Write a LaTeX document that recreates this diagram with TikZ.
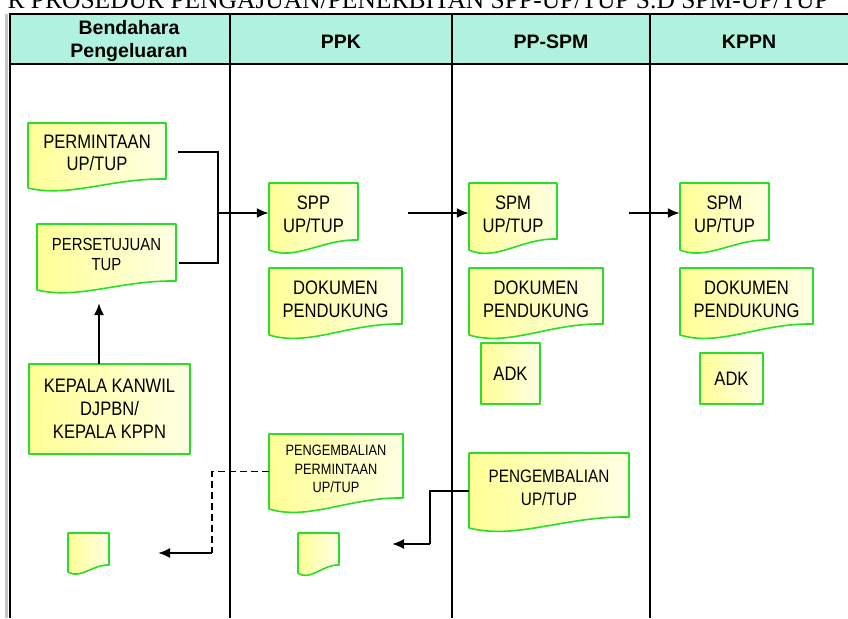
\documentclass[tikz,border=0pt]{standalone}
\usepackage{fontspec}
\usetikzlibrary{arrows.meta,calc}
\newfontfamily\bxf[FakeStretch=0.85]{Liberation Sans}
\newfontfamily\hdf{Liberation Sans}
\newfontfamily\ttlf{Liberation Serif}
\definecolor{mint}{RGB}{176,242,222}
\definecolor{docgreen}{RGB}{40,222,40}
\definecolor{yelA}{RGB}{255,255,150}
\definecolor{yelB}{RGB}{255,255,228}
\tikzset{
  docshape/.style={draw=docgreen, line width=1.6pt, left color=yelA, right color=yelB, line join=round},
  txt/.style={inner sep=0pt, align=center, text=black},
  lane/.style={line width=2pt, black},
  flow/.style={line width=2pt, black},
  arr/.style={flow, -{Latex[length=12pt,width=10pt]}},
  dsh/.style={line width=1.8pt, black, dash pattern=on 7pt off 4pt},
  hd/.style={inner sep=0pt, align=center, font=\hdf\bfseries\fontsize{19.5}{23}\selectfont},
}
% x1 y1 x2 yl yr
\newcommand\docpath[5]{%
  \path[docshape] (#1,#2) -- (#3,#2) -- (#3,#5)
    .. controls ({#1+0.6*(#3-#1)},{#5-0.1*(#4-#5)}) and ({#1+0.3*(#3-#1)},{#4+1.1*(#4-#5)}) .. (#1,#4) -- cycle;}
% name x1 y1 x2 yl yr font text
\newcommand\docbox[8]{%
  \docpath{#2}{#3}{#4}{#5}{#6}
  \node[inner sep=0pt, minimum width={(#4-#2)*1pt}, minimum height={(#5-#3)*1pt}] (#1) at ({(#2+#4)/2},{(#3+#5)/2}) {};
  \node[txt, font=#7, yshift=2.5pt] (#1-t) at (#1) {#8};}
% name x1 y1 x2 y2 font text
\newcommand\rectbox[7]{%
  \path[docshape] (#2,#3) rectangle (#4,#5);
  \node[inner sep=0pt, minimum width={(#4-#2)*1pt}, minimum height={(#5-#3)*1pt}] (#1) at ({(#2+#4)/2},{(#3+#5)/2}) {};
  \node[txt, font=#6] (#1-t) at (#1) {#7};}
\newcommand\fA{\bxf\fontsize{19.5}{23}\selectfont}
\newcommand\fP{\bxf\fontsize{19.5}{22}\selectfont}
\newcommand\fB{\bxf\fontsize{17.5}{20}\selectfont}
\newcommand\fC{\bxf\fontsize{15}{18.5}\selectfont}
\newcommand\fD{\bxf\fontsize{18}{23}\selectfont}
\begin{document}
\begin{tikzpicture}[x=1pt,y=-1pt]
\useasboundingbox (0,0) rectangle (848,618);
\clip (0,0) rectangle (848,618);
\fill[white] (0,0) rectangle (848,618);
% title (cut off at top, as in the reference)
\node[inner sep=0pt, anchor=base east, font=\ttlf\fontsize{25.5}{26}\selectfont] (title) at (829,9)
  {R PROSEDUR PENGAJUAN/PENERBITAN SPP-UP/TUP S.D SPM-UP/TUP};
% table
\fill[mint] (10,14) rectangle (850,64);
\draw[gray!45, line width=3pt] (6,14) -- (6,618);
\draw[lane] (10,13) -- (10,618);
\draw[lane] (10,14) -- (850,14);
\draw[lane] (10,64) -- (850,64);
\draw[lane] (230,14) -- (230,618);
\draw[lane] (452,14) -- (452,618);
\draw[lane] (650,14) -- (650,618);
\node[hd] (hbend) at (129,41) {Bendahara\\Pengeluaran};
\node[hd] (hppk) at (341,42) {PPK};
\node[hd] (hppspm) at (551,42) {PP-SPM};
\node[hd] (hkppn) at (749,42) {KPPN};
% boxes
\docbox{perm}{28}{123}{166}{188}{179}{\fP}{PERMINTAAN\\UP/TUP}
\docbox{pers}{37}{224}{176}{290}{281}{\fB}{PERSETUJUAN\\TUP}
\rectbox{kep}{29}{364}{190}{454}{\fA}{KEPALA KANWIL\\DJPBN/\\KEPALA KPPN}
\docbox{spp}{269}{183}{358}{250}{240}{\fA}{SPP\\UP/TUP}
\docbox{dok1}{269}{268}{402}{335}{324}{\fA}{DOKUMEN\\PENDUKUNG}
\docbox{spm1}{469}{183}{557}{250}{239}{\fA}{SPM\\UP/TUP}
\docbox{dok2}{469}{268}{603}{335}{324}{\fA}{DOKUMEN\\PENDUKUNG}
\rectbox{adk1}{481}{343}{540}{404}{\fA}{ADK}
\docbox{spm2}{680}{183}{769}{250}{240}{\fA}{SPM\\UP/TUP}
\docbox{dok3}{680}{268}{813}{335}{324}{\fA}{DOKUMEN\\PENDUKUNG}
\rectbox{adk2}{700}{353}{763}{404}{\fA}{ADK}
\docbox{pengperm}{269}{434}{403}{509}{498}{\fC}{PENGEMBALIAN\\PERMINTAAN\\UP/TUP}
\docbox{pengup}{469}{453}{629}{528}{517}{\fD}{PENGEMBALIAN\\UP/TUP}
\docpath{68}{533}{109}{572}{565}
\node[inner sep=0pt, minimum width=41pt, minimum height=39pt] (bdoc) at (88.5,552.5) {};
\docpath{298}{533}{339}{573}{565}
\node[inner sep=0pt, minimum width=41pt, minimum height=40pt] (pdoc) at (318.5,553) {};
% connectors
\coordinate (j1) at (218,213);
\coordinate (permout) at (178,152);
\coordinate (persout) at (179,263);
\draw[flow] (permout) -| (j1);
\draw[flow] (persout) -| (j1);
\draw[arr] (j1) -- (j1 -| spp.west);
\coordinate (a2) at (408,213);
\draw[arr] (a2) -- (a2 -| spm1.west);
\coordinate (a3) at (629,213);
\draw[arr] (a3) -- (a3 -| spm2.west);
\coordinate (kup) at (99,303);
\draw[arr] (kup |- kep.north) -- (kup);
\coordinate (d1) at (212,553);
\coordinate (d2) at (158,553);
\draw[dsh] (pengperm.west) -| (d1);
\draw[arr] (d1) -- (d2);
\coordinate (r1) at (430,544);
\coordinate (r2) at (392,544);
\draw[flow] (pengup.west) -| (r1);
\draw[arr] (r1) -- (r2);
\end{tikzpicture}
\end{document}
